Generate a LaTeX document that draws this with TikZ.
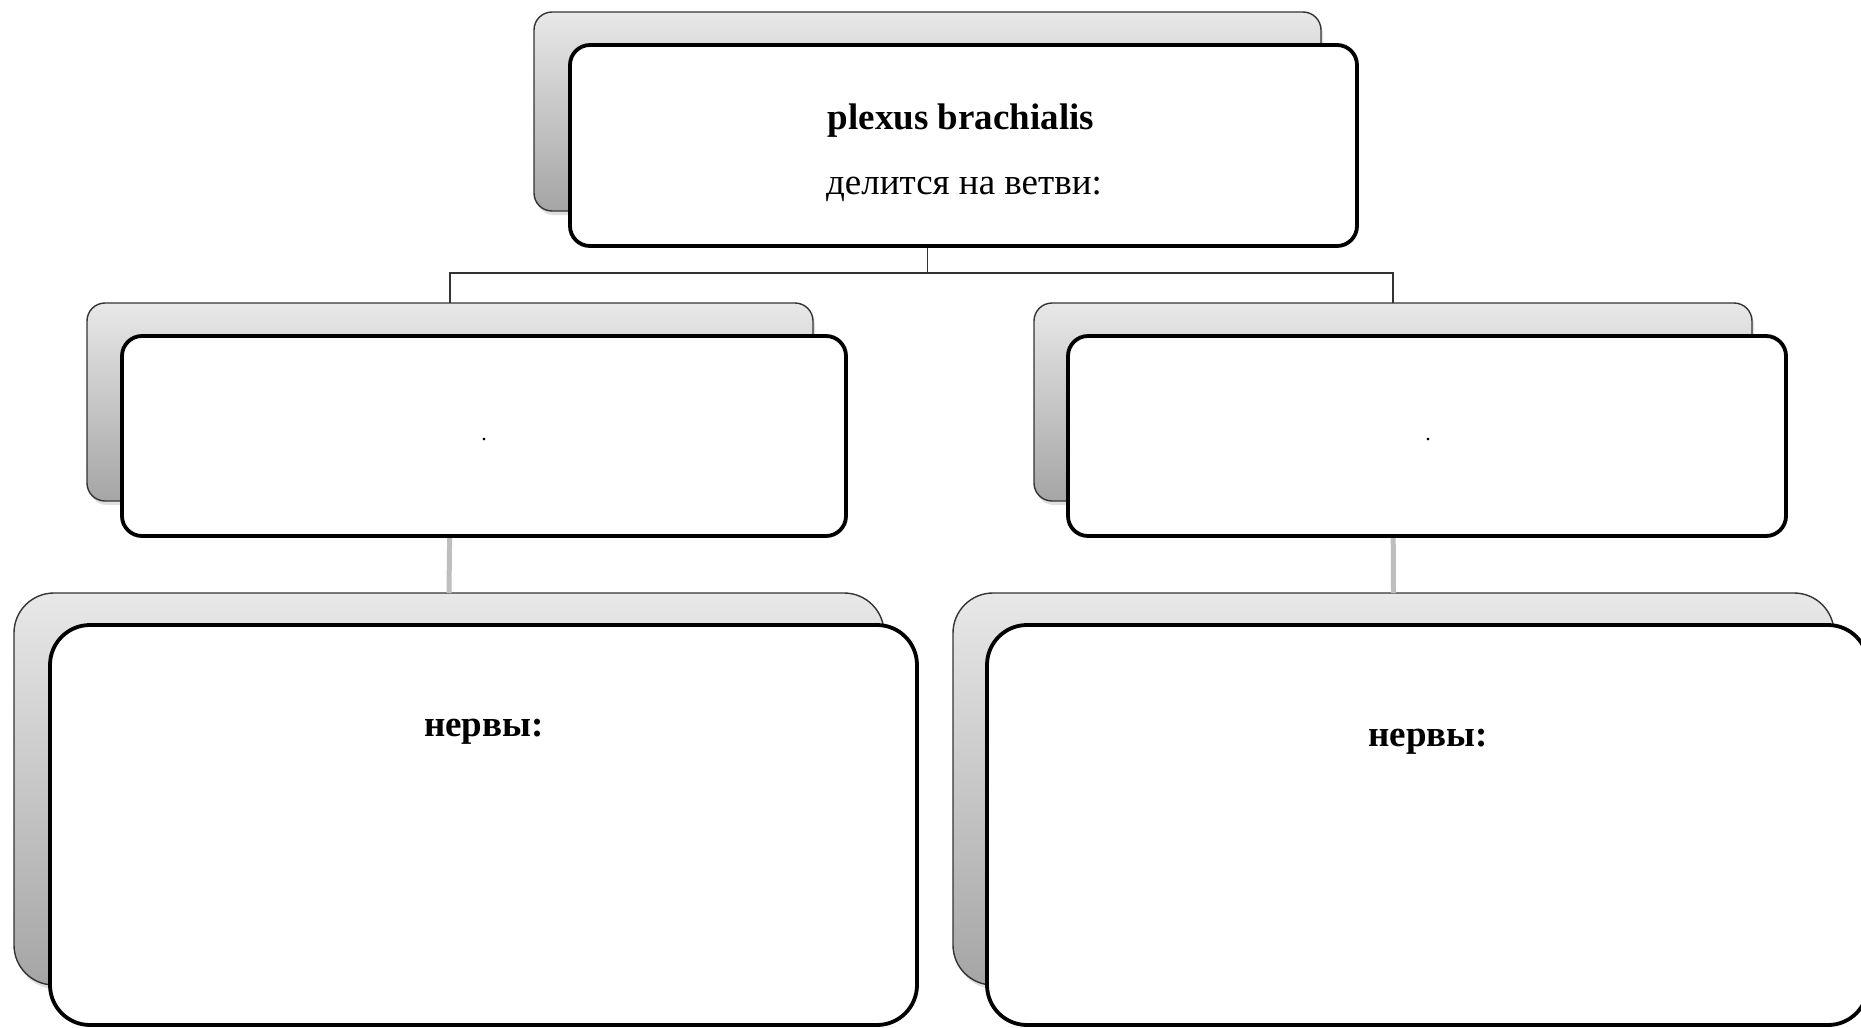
\documentclass[tikz,border=0pt]{standalone}
\usepackage{fontspec}
\setmainfont{Liberation Serif}
\usetikzlibrary{shadows}
\definecolor{bktop}{RGB}{232,232,232}
\definecolor{bkbot}{RGB}{165,165,165}
\definecolor{linkgray}{RGB}{190,190,190}
\tikzset{
  backbox/.style={draw=black!80, line width=1.4pt, top color=bktop, bottom color=bkbot,
    inner sep=0pt, outer sep=0pt,
    drop shadow={opacity=0.25, shadow xshift=2pt, shadow yshift=-4pt}},
  frontbox/.style={draw=black, line width=3.8pt, fill=white, inner sep=0pt, outer sep=0pt},
  toplink/.style={draw=black!80, line width=1.4pt},
  lowlink/.style={draw=linkgray, line width=5pt},
  lbl/.style={inner sep=0pt, font=\fontsize{37}{44}\selectfont},
  blbl/.style={inner sep=0pt, font=\fontsize{37}{44}\selectfont\bfseries},
  dotlbl/.style={inner sep=0pt, font=\fontsize{22}{26}\selectfont}
}
\begin{document}
\begin{tikzpicture}[x=1pt,y=-1pt]
\useasboundingbox[fill=white] (0,0) rectangle (1861,1028);
% back boxes
\node[backbox, rounded corners=18pt, minimum width=787pt, minimum height=199pt] (topback) at (927.5,111.5) {};
\node[backbox, rounded corners=18pt, minimum width=726pt, minimum height=198pt] (mlback) at (450,402) {};
\node[backbox, rounded corners=18pt, minimum width=718pt, minimum height=198pt] (mrback) at (1393,402) {};
\node[backbox, rounded corners=40pt, minimum width=870pt, minimum height=392pt] (blback) at (449,789) {};
\node[backbox, rounded corners=40pt, minimum width=881pt, minimum height=392pt] (brback) at (1393.5,789) {};
% connectors
\draw[toplink] (topback.south) -- ++(0,62) -| (mlback.north);
\draw[toplink] (topback.south) -- ++(0,62) -| (mrback.north);
\draw[lowlink] (mlback.south) -- (blback.north);
\draw[lowlink] (mrback.south) -- (brback.north);
% front boxes
\node[frontbox, rounded corners=20pt, minimum width=787pt, minimum height=201pt] (topfront) at (963.5,145.5) {};
\node[frontbox, rounded corners=20pt, minimum width=724pt, minimum height=200pt] (mlfront) at (484,436) {};
\node[frontbox, rounded corners=20pt, minimum width=718pt, minimum height=200pt] (mrfront) at (1427,436) {};
\node[frontbox, rounded corners=40pt, minimum width=867pt, minimum height=400pt] (blfront) at (483.5,825) {};
\node[frontbox, rounded corners=40pt, minimum width=881pt, minimum height=400pt] (brfront) at (1427.5,825) {};
% texts
\node[blbl] (t1) at (961,121) {plexus brachialis};
\node[lbl] (t2) at (964,189) {делится на ветви:};
\node[dotlbl] (d1) at (484,440) {.};
\node[dotlbl] (d2) at (1428,440) {.};
\node[blbl] (n1) at (484,732) {нервы:};
\node[blbl] (n2) at (1428,742) {нервы:};
\end{tikzpicture}
\end{document}
